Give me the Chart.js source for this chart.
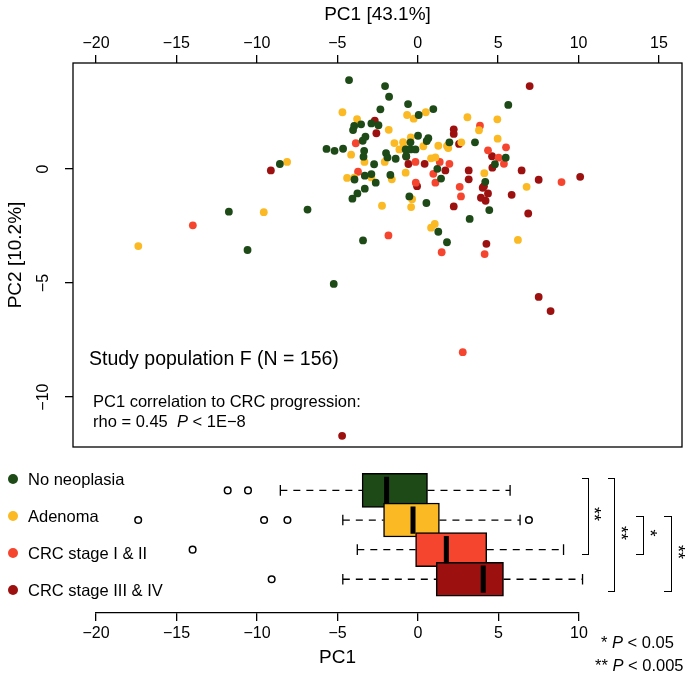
<!DOCTYPE html>
<html>
<head>
<meta charset="utf-8">
<script src="https://cdn.jsdelivr.net/npm/chart.js@4.4.1/dist/chart.umd.min.js"></script>
<style>
  body { margin: 0; background: #fff; width: 686px; height: 681px; position: relative; overflow: hidden;
         font-family: "Liberation Sans", Arial, Helvetica, sans-serif; color: #000; }
  .abs { position: absolute; white-space: nowrap; line-height: 1; }
  #pca { position: absolute; left: 0; top: 0; }
  #box { position: absolute; left: 0; top: 450px; }
  .dot { position: absolute; width: 10px; height: 10px; border-radius: 50%; }
  .brk { position: absolute; border: 1.3px solid #000; border-left: none; }
  .star { position: absolute; font-size: 18px; transform: rotate(90deg); transform-origin: center; line-height: 1; }
</style>
</head>
<body>
<canvas id="pca" width="686" height="455"></canvas>
<canvas id="box" width="686" height="231"></canvas>

<div class="abs" style="left:89px; top:349px; font-size:19.5px;">Study population F (N = 156)</div>
<div class="abs" style="left:93px; top:393px; font-size:16.5px;">PC1 correlation to CRC progression:</div>
<div class="abs" style="left:93px; top:413px; font-size:16.5px;">rho = 0.45&nbsp;&nbsp;<i>P</i> &lt; 1E&minus;8</div>

<div id="legend"></div>

<div class="brk" style="left:582px; top:478px; width:6px; height:75px;"></div>
<div class="brk" style="left:608px; top:478px; width:6px; height:112px;"></div>
<div class="brk" style="left:636px; top:516px; width:7px; height:37px;"></div>
<div class="brk" style="left:664px; top:516px; width:7px; height:74px;"></div>
<div class="star" style="left:587px; top:505px;">**</div>
<div class="star" style="left:614px; top:524px;">**</div>
<div class="star" style="left:646px; top:524px;">*</div>
<div class="star" style="left:671px; top:543px;">**</div>

<div class="abs" style="left:601px; top:634px; font-size:16.5px;">* <i>P</i> &lt; 0.05</div>
<div class="abs" style="left:595px; top:657px; font-size:16.5px;">** <i>P</i> &lt; 0.005</div>

<script>
// ---- data ----
const groups = ["No neoplasia", "Adenoma", "CRC stage I & II", "CRC stage III & IV"];
const groupColors = ["#1d4a17", "#fbb923", "#f6452f", "#9c110f"];

const pcaTicksX = [-20, -15, -10, -5, 0, 5, 10, 15];
const pcaTicksY = [-10, -5, 0];
const boxTicksX = [-20, -15, -10, -5, 0, 5, 10];

// [PC1, PC2]
const pcNoNeoplasia = [
  [-4.27, 3.90], [-2.03, 3.64], [-1.78, 3.17], [5.63, 2.81], [-0.60, 2.85], [-2.32, 2.62], [0.97, 2.63],
  [0.06, 2.37], [-3.52, 1.96], [-3.95, 1.89], [-4.02, 1.71], [-2.88, 2.00], [-2.44, 1.92], [-3.42, 1.24],
  [-3.25, 1.42], [0.02, 1.46], [0.56, 1.23], [0.66, 1.35], [-0.45, 1.17], [-0.75, 0.86], [-0.45, 0.86],
  [-0.14, 0.86], [1.97, 1.17], [3.56, 1.17], [5.47, 0.50], [4.80, 0.21], [-5.67, 0.88], [-5.17, 0.80],
  [-4.64, 0.89], [-3.33, 0.80], [-3.37, 0.54], [-2.71, 0.21], [-1.97, 0.70], [-1.88, 0.51], [-1.37, 0.45],
  [-0.72, 0.56], [1.22, 0.01], [1.45, -0.42], [4.20, -0.56], [-1.70, -0.26], [-3.93, -0.46], [-3.29, -0.29],
  [-2.88, -0.22], [-2.61, -0.60], [-3.29, -0.86], [-3.75, -1.07], [-4.06, -1.30], [-0.52, -1.20], [0.54, -1.49],
  [4.45, -1.80], [3.23, -2.19], [1.28, -2.75], [-3.40, -3.13], [1.82, -3.21], [-8.57, 0.22], [-11.74, -1.87],
  [-6.85, -1.78], [-10.58, -3.55], [-5.22, -5.04]
];
const pcAdenoma = [
  [-4.68, 2.49], [0.50, 2.49], [-0.66, 2.37], [-0.25, 2.21], [-3.77, 2.19], [-1.80, 1.72], [3.09, 2.27],
  [4.95, 2.18], [3.81, 1.70], [-1.45, 1.14], [-0.91, 1.18], [-0.43, 1.39], [-1.14, 0.86], [-0.87, 0.95],
  [0.35, 1.00], [1.28, 1.02], [1.82, 1.01], [1.90, 0.92], [2.71, 1.17], [4.97, 1.33], [6.77, -0.78],
  [6.23, -3.11], [-4.14, 0.63], [-3.31, 0.31], [-2.05, 0.31], [0.83, 0.47], [1.10, 0.51], [4.14, -0.18],
  [-0.75, -0.16], [-1.61, -0.45], [-4.39, -0.39], [-3.95, -0.38], [-2.88, -0.37], [-2.22, -1.61], [-0.35, -1.32],
  [-0.41, -1.67], [0.83, -2.57], [1.06, -2.41], [-8.12, 0.31], [-9.57, -1.89], [-17.37, -3.38]
];
const pcCrcEarly = [
  [3.87, 1.90], [-3.85, 1.13], [5.49, 0.95], [4.37, 0.82], [5.03, 0.50], [5.36, 0.23], [8.94, -0.57],
  [-0.14, 0.31], [1.37, 0.31], [1.97, 0.23], [0.97, -0.21], [1.10, -0.60], [2.61, -0.78], [-0.12, -0.60],
  [-3.71, -0.12], [2.69, -1.20], [-1.82, -2.91], [1.49, -3.65], [4.16, -3.73], [-13.98, -2.47], [2.80, -8.03]
];
const pcCrcLate = [
  [6.96, 3.64], [-2.67, 2.12], [-2.57, 1.57], [2.24, 1.74], [2.24, 1.54], [2.57, 1.10], [4.62, 0.56],
  [4.64, 0.06], [6.46, -0.06], [7.52, -0.47], [10.1, -0.34], [5.84, -1.13], [6.87, -1.95], [-0.71, 0.55],
  [-0.58, 0.22], [0.43, 0.23], [1.72, -0.06], [3.17, -0.06], [3.17, -0.45], [4.04, -0.82], [4.12, -0.75],
  [-0.04, -0.75], [3.93, -1.26], [4.22, -1.39], [4.37, -1.07], [2.24, -1.64], [4.27, -3.28], [-9.13, -0.06],
  [-4.70, -11.70], [7.52, -5.61], [8.26, -6.23]
];

// boxplot of PC1 per group
const whiskerLow  = [-8.55, -4.67, -3.77, -4.67];
const quart1      = [-3.47, -2.14, -0.15, 1.13];
const medians     = [-1.95, -0.31, 1.76, 4.05];
const quart3      = [0.59, 1.33, 4.27, 5.31];
const whiskerHigh = [5.72, 6.34, 9.04, 10.22];
const outliers    = [[-11.82, -10.56], [-17.38, -9.56, -8.11, 6.89], [-14.0], [-9.09]];

// ---- helpers ----
const FONT = '"Liberation Sans", Arial, Helvetica, sans-serif';
const minus = v => (v < 0 ? "\u2212" + Math.abs(v) : String(v));
const noPad = s => { s.paddingTop = 0; s.paddingBottom = 0; s.paddingLeft = 0; s.paddingRight = 0; };

const frame = {
  id: "frame",
  afterDatasetsDraw(chart) {
    const a = chart.chartArea, ctx = chart.ctx;
    ctx.save();
    ctx.strokeStyle = "#000";
    ctx.lineWidth = 1.3;
    ctx.strokeRect(a.left, a.top, a.right - a.left, a.bottom - a.top);
    ctx.restore();
  }
};

// legend (html)
const legendBox = document.getElementById("legend");
const rowY = [479, 516, 553, 590];
groups.forEach((g, i) => {
  const d = document.createElement("div");
  d.className = "dot";
  d.style.left = "8px"; d.style.top = (rowY[i] - 5) + "px";
  d.style.background = groupColors[i];
  legendBox.appendChild(d);
  const t = document.createElement("div");
  t.className = "abs";
  t.style.left = "28px"; t.style.top = (rowY[i] - 8) + "px"; t.style.fontSize = "16.5px";
  t.textContent = g;
  legendBox.appendChild(t);
});

// =========================
// PCA SCATTER
// =========================
const pcaSets = [pcNoNeoplasia, pcAdenoma, pcCrcEarly, pcCrcLate];

new Chart(document.getElementById("pca"), {
  type: "scatter",
  data: {
    datasets: pcaSets.map((set, i) => ({
      label: groups[i],
      data: set.map(p => ({ x: p[0], y: p[1] })),
      backgroundColor: groupColors[i],
      borderWidth: 0,
      pointRadius: 3.9,
      pointHoverRadius: 3.9
    }))
  },
  options: {
    responsive: false,
    animation: false,
    events: [],
    layout: { padding: { left: 0, right: 4, top: 0, bottom: 8 } },
    plugins: { legend: { display: false }, tooltip: { enabled: false } },
    scales: {
      x: {
        type: "linear", position: "top", min: -21.43, max: 16.43,
        afterBuildTicks: s => { s.ticks = pcaTicksX.map(v => ({ value: v })); },
        afterFit: s => { s.height = 63; noPad(s); },
        ticks: { callback: minus, color: "#000", font: { family: FONT, size: 16 }, maxRotation: 0, padding: 2 },
        grid: { drawOnChartArea: false, tickLength: 8, color: "#000", lineWidth: 1.3 },
        border: { display: false },
        title: { display: true, text: "PC1 [43.1%]", color: "#000", font: { family: FONT, size: 19 }, padding: { top: 3, bottom: 0 } }
      },
      y: {
        type: "linear", position: "left", min: -12.19, max: 4.65,
        afterBuildTicks: s => { s.ticks = pcaTicksY.map(v => ({ value: v })); },
        afterFit: s => { s.width = 73; noPad(s); },
        ticks: { callback: minus, color: "#000", font: { family: FONT, size: 16 }, minRotation: 90, maxRotation: 90, crossAlign: "center", padding: 8 },
        grid: { drawOnChartArea: false, tickLength: 8, color: "#000", lineWidth: 1.3 },
        border: { display: false },
        title: { display: true, text: "PC2 [10.2%]", color: "#000", font: { family: FONT, size: 19 }, padding: { top: 4, bottom: 0 } }
      }
    }
  },
  plugins: [frame]
});

// =========================
// BOXPLOTS
// =========================
const rows = [1, 2, 3, 4];
const capHalf = 0.18, boxHalf = 0.46;

function segments(list) {
  const out = [];
  list.forEach(s => { out.push({ x: s[0], y: s[1] }, { x: s[2], y: s[3] }, { x: s[2], y: null }); });
  return out;
}

const whiskerSegs = [], capSegs = [], medianSegs = [], outlierPts = [];
rows.forEach((r, i) => {
  whiskerSegs.push([whiskerLow[i], r, quart1[i], r], [quart3[i], r, whiskerHigh[i], r]);
  capSegs.push([whiskerLow[i], r - capHalf, whiskerLow[i], r + capHalf], [whiskerHigh[i], r - capHalf, whiskerHigh[i], r + capHalf]);
  medianSegs.push([medians[i], r - boxHalf, medians[i], r + boxHalf]);
  outliers[i].forEach(v => outlierPts.push({ x: v, y: r }));
});

new Chart(document.getElementById("box"), {
  type: "scatter",
  data: {
    datasets: [
      {
        type: "bar", indexAxis: "y", order: 2, clip: false,
        data: rows.map((r, i) => ({ x: [quart1[i], quart3[i]], y: r })),
        backgroundColor: groupColors, borderColor: "#000", borderWidth: 1.5, borderSkipped: false,
        barThickness: 34
      },
      {
        type: "line", order: 3, clip: false, data: segments(whiskerSegs),
        borderColor: "#000", borderWidth: 1.3, borderDash: [7, 6], pointRadius: 0, spanGaps: false
      },
      {
        type: "line", order: 3, clip: false, data: segments(capSegs),
        borderColor: "#000", borderWidth: 1.3, pointRadius: 0, spanGaps: false
      },
      {
        type: "line", order: 0, clip: false, data: segments(medianSegs),
        borderColor: "#000", borderWidth: 5, borderCapStyle: "butt", pointRadius: 0, spanGaps: false
      },
      {
        type: "scatter", order: 1, clip: false, data: outlierPts,
        pointRadius: 3.3, pointBackgroundColor: "#fff", pointBorderColor: "#000", pointBorderWidth: 1.5
      }
    ]
  },
  options: {
    responsive: false,
    animation: false,
    events: [],
    layout: { padding: { left: 96, right: 107, top: 9, bottom: 0 } },
    plugins: { legend: { display: false }, tooltip: { enabled: false } },
    scales: {
      x: {
        type: "linear", position: "bottom", min: -20, max: 10,
        afterBuildTicks: s => { s.ticks = boxTicksX.map(v => ({ value: v })); },
        afterFit: s => { s.height = 68; },
        ticks: { callback: minus, color: "#000", font: { family: FONT, size: 16 }, maxRotation: 0, padding: 3 },
        grid: { drawOnChartArea: false, tickLength: 8, color: "#000", lineWidth: 1.3 },
        border: { display: true, color: "#000", width: 1.3 },
        title: { display: true, text: "PC1", color: "#000", font: { family: FONT, size: 19 }, padding: { top: 0, bottom: 12 } }
      },
      y: { type: "linear", display: false, reverse: true, min: 0.459, max: 4.62 }
    }
  }
});
</script>
</body>
</html>
